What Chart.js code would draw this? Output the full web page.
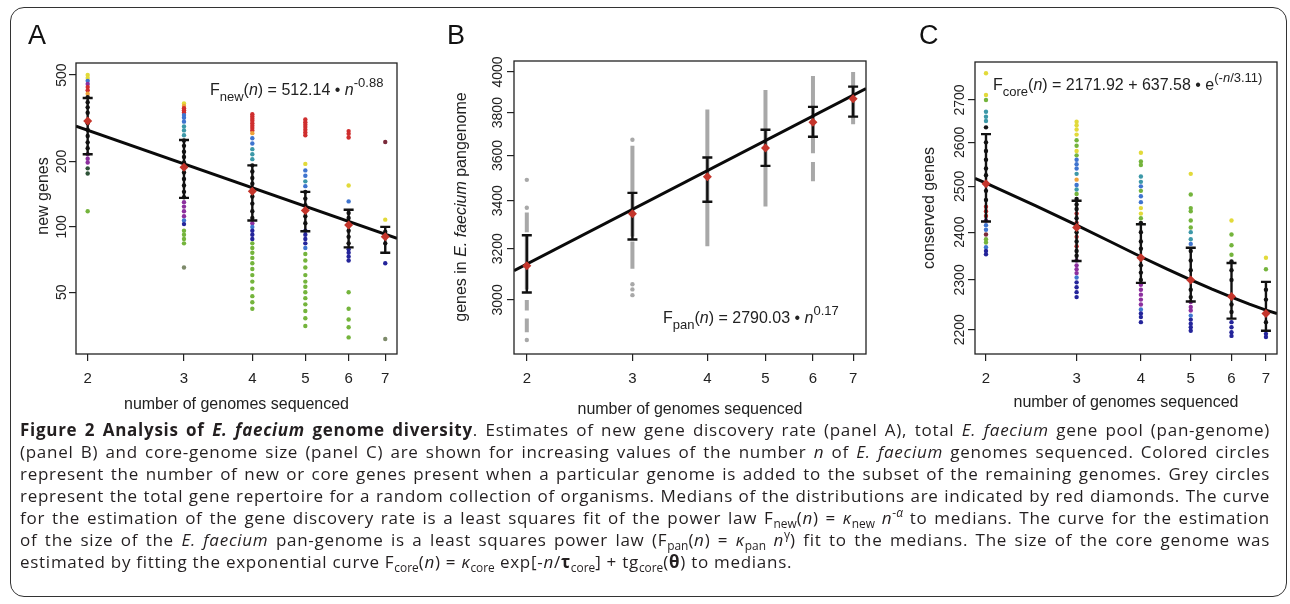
<!DOCTYPE html>
<html>
<head>
<meta charset="utf-8">
<script src="https://cdn.jsdelivr.net/npm/chart.js@4.4.0/dist/chart.umd.min.js"></script>
<style>
  body { margin: 0; background: #fff; width: 1290px; height: 604px; overflow: hidden; font-family: "Liberation Sans", Arial, sans-serif; }
  #frame { position: absolute; left: 10px; top: 7px; width: 1277px; height: 590px; border: 1.5px solid #333; border-radius: 14px; box-sizing: border-box; }
  canvas { position: absolute; top: 0; }
  #cA { left: 0; } #cB { left: 440px; } #cC { left: 880px; }
  .letter { position: absolute; top: 22px; font-size: 27px; line-height: 27px; color: #111; }
  #caption { position: absolute; left: 20px; top: 419px; width: 1250px; font-family: "Open Sans", sans-serif; font-size: 17px; letter-spacing: 0.72px; line-height: 22px; color: #231f20; }
  #caption div { text-align: justify; text-align-last: justify; }
  #caption div.last { text-align-last: left; }
  #caption sub, #caption sup { font-size: 70%; line-height: 0; letter-spacing: 0; }
</style>
</head>
<body>
<div id="frame"></div>
<canvas id="cA" width="440" height="420"></canvas>
<canvas id="cB" width="440" height="420"></canvas>
<canvas id="cC" width="410" height="420"></canvas>
<div class="letter" style="left:28px">A</div>
<div class="letter" style="left:447px">B</div>
<div class="letter" style="left:919px">C</div>
<div id="caption">
  <div><b>Figure 2 Analysis of <i>E. faecium</i> genome diversity</b>. Estimates of new gene discovery rate (panel A), total <i>E. faecium</i> gene pool (pan-genome)</div>
  <div>(panel B) and core-genome size (panel C) are shown for increasing values of the number <i>n</i> of <i>E. faecium</i> genomes sequenced. Colored circles</div>
  <div>represent the number of new or core genes present when a particular genome is added to the subset of the remaining genomes. Grey circles</div>
  <div>represent the total gene repertoire for a random collection of organisms. Medians of the distributions are indicated by red diamonds. The curve</div>
  <div>for the estimation of the gene discovery rate is a least squares fit of the power law F<sub>new</sub>(<i>n</i>) = <i>κ</i><sub>new</sub> <i>n</i><sup>-<i>α</i></sup> to medians. The curve for the estimation</div>
  <div>of the size of the <i>E. faecium</i> pan-genome is a least squares power law (F<sub>pan</sub>(<i>n</i>) = <i>κ</i><sub>pan</sub> <i>n</i><sup>γ</sup>) fit to the medians. The size of the core genome was</div>
  <div class="last">estimated by fitting the exponential curve F<sub>core</sub>(<i>n</i>) = <i>κ</i><sub>core</sub> exp[-<i>n</i>/<b>τ</b><sub>core</sub>] + tg<sub>core</sub>(<b>θ</b>) to medians.</div>
</div>
<script>
// shared x axis (number of genomes, log scale)
const xMin = 1.904, xMax = 7.355;
const nVals = [2, 3, 4, 5, 6, 7];

// dot colours
const pal = {
  Y: '#e2da3a', R: '#cf2e2e', O: '#eea23a', B: '#3f74cf', T: '#3c98a8', G: '#74b43c',
  P: '#8c2f9e', N: '#24249a', K: '#151515', D: '#2e5238', S: '#7d8a6a', M: '#7a2a3a'
};

// Panel A: new genes
const yTicksA = [50, 100, 200, 500];
const yMinA = 26, yMaxA = 568;
const medA = [307, 188, 146, 119, 102, 90];
const hiA = [392, 251, 192, 145, 120, 100];
const loA = [216, 136, 107, 95.5, 80.5, 76];
const fitA_n = [1.904, 7.355];
const fitA_v = [291, 88.5];
const dotsA = [
  [2,500,'Y'],[2,485,'Y'],[2,470,'B'],[2,455,'P'],[2,440,'R'],[2,425,'R'],[2,410,'O'],[2,395,'K'],[2,375,'K'],[2,355,'K'],[2,335,'K'],[2,300,'K'],[2,280,'K'],[2,262,'K'],[2,245,'K'],[2,230,'K'],[2,216,'P'],[2,206,'P'],[2,198,'P'],[2,186,'D'],[2,176,'D'],[2,118,'G'],
  [3,370,'Y'],[3,360,'O'],[3,352,'R'],[3,344,'R'],[3,336,'R'],[3,327,'B'],[3,318,'B'],[3,305,'B'],[3,290,'T'],[3,278,'T'],[3,264,'T'],[3,250,'K'],[3,236,'K'],[3,222,'K'],[3,210,'K'],[3,198,'K'],[3,178,'K'],[3,166,'K'],[3,155,'K'],[3,145,'K'],[3,137,'K'],[3,130,'P'],[3,124,'P'],[3,118,'P'],[3,112,'P'],[3,107,'B'],[3,103,'N'],[3,96,'G'],[3,92,'G'],[3,88,'G'],[3,84,'G'],[3,65,'S'],
  [4,330,'R'],[4,322,'R'],[4,315,'R'],[4,308,'R'],[4,300,'R'],[4,292,'R'],[4,285,'R'],[4,278,'R'],[4,270,'O'],[4,256,'B'],[4,242,'B'],[4,228,'T'],[4,216,'T'],[4,205,'T'],[4,192,'K'],[4,180,'K'],[4,168,'K'],[4,158,'K'],[4,138,'K'],[4,128,'K'],[4,118,'K'],[4,110,'K'],[4,104,'P'],[4,100,'B'],[4,96,'N'],[4,92,'N'],[4,88,'N'],[4,84,'G'],[4,80,'G'],[4,76,'G'],[4,72,'G'],[4,68,'G'],[4,64,'G'],[4,60,'G'],[4,56,'G'],[4,52,'G'],[4,48,'G'],[4,45,'G'],[4,42,'G'],
  [5,312,'R'],[5,303,'R'],[5,295,'R'],[5,288,'R'],[5,280,'R'],[5,272,'R'],[5,264,'R'],[5,195,'Y'],[5,182,'B'],[5,172,'B'],[5,162,'T'],[5,154,'B'],[5,145,'K'],[5,135,'K'],[5,126,'K'],[5,112,'K'],[5,104,'K'],[5,96,'N'],[5,92,'N'],[5,88,'N'],[5,84,'N'],[5,80,'B'],[5,75,'G'],[5,70,'G'],[5,65,'G'],[5,60,'G'],[5,56,'G'],[5,53,'G'],[5,50,'G'],[5,47,'G'],[5,44,'G'],[5,41,'G'],[5,38,'G'],[5,35,'G'],
  [6,276,'R'],[6,268,'R'],[6,258,'R'],[6,155,'Y'],[6,131,'B'],[6,116,'K'],[6,110,'K'],[6,96,'K'],[6,90,'K'],[6,84,'K'],[6,79,'N'],[6,76,'N'],[6,73,'N'],[6,70,'N'],[6,50,'G'],[6,42,'G'],[6,37.5,'G'],[6,34.5,'G'],[6,31,'G'],
  [7,246,'M'],[7,108,'Y'],[7,95,'K'],[7,84,'K'],[7,68,'N'],[7,30.5,'S']
];

// Panel B: pangenome size
const yTicksB = [3000, 3200, 3400, 3600, 3800, 4000];
const yMinB = 2802, yMaxB = 4056;
const medB = [3132, 3345, 3505, 3634, 3754, 3867];
const hiB = [3255, 3434, 3591, 3719, 3828, 3927];
const loB = [3028, 3238, 3396, 3553, 3686, 3781];
const fitB_n = [1.904, 7.355];
const fitB_v = [3113, 3917];
// grey runs [n, from, to] and single grey dots [n, value]
const greyRunsB = [
  [2,3040,3260],[2,3268,3350],[2,2960,3000],[2,2880,2930],
  [3,3250,3630],[3,3120,3230],[3,3600,3645],
  [4,3210,3815],
  [5,3375,3910],
  [6,3610,3980],[6,3485,3570],
  [7,3745,4000]
];
const greyDotsB = [[2,3491],[2,3370],[2,2852],[3,3672],[3,3060],[3,3040],[3,3018]];

// Panel C: core genome
const yTicksC = [2200, 2300, 2400, 2500, 2600, 2700];
const yMinC = 2153, yMaxC = 2793;
const medC = [2506, 2410, 2346, 2300, 2266, 2232];
const hiC = [2619, 2468, 2417, 2367, 2335, 2296];
const loC = [2423, 2339, 2294, 2256, 2222, 2198];
const fitC_n = [1.904, 2, 2.5, 3, 3.5, 4, 4.5, 5, 5.5, 6, 6.5, 7, 7.355];
const fitC_v = [2518, 2507, 2457, 2415, 2379, 2348, 2322, 2300, 2281, 2265, 2251, 2239, 2232];
const dotsC = [
  [2,2765,'Y'],[2,2712,'Y'],[2,2700,'G'],[2,2672,'T'],[2,2660,'T'],[2,2650,'T'],[2,2635,'K'],[2,2600,'K'],[2,2580,'K'],[2,2560,'K'],[2,2540,'K'],[2,2525,'K'],[2,2490,'K'],[2,2470,'K'],[2,2455,'R'],[2,2445,'R'],[2,2435,'R'],[2,2425,'P'],[2,2415,'B'],[2,2405,'B'],[2,2395,'M'],[2,2385,'G'],[2,2378,'G'],[2,2368,'B'],[2,2360,'N'],[2,2353,'N'],
  [3,2648,'Y'],[3,2640,'Y'],[3,2630,'Y'],[3,2618,'Y'],[3,2605,'G'],[3,2592,'G'],[3,2580,'Y'],[3,2570,'G'],[3,2560,'B'],[3,2550,'B'],[3,2540,'B'],[3,2528,'T'],[3,2515,'O'],[3,2503,'B'],[3,2493,'T'],[3,2483,'G'],[3,2472,'K'],[3,2460,'K'],[3,2450,'K'],[3,2440,'R'],[3,2430,'K'],[3,2420,'R'],[3,2400,'K'],[3,2390,'R'],[3,2380,'K'],[3,2370,'R'],[3,2360,'K'],[3,2350,'K'],[3,2340,'P'],[3,2330,'P'],[3,2322,'P'],[3,2314,'P'],[3,2305,'B'],[3,2295,'N'],[3,2285,'N'],[3,2275,'N'],[3,2265,'N'],
  [4,2576,'Y'],[4,2556,'G'],[4,2548,'G'],[4,2522,'T'],[4,2510,'T'],[4,2500,'B'],[4,2490,'G'],[4,2478,'B'],[4,2465,'B'],[4,2452,'Y'],[4,2440,'Y'],[4,2430,'G'],[4,2420,'K'],[4,2400,'K'],[4,2380,'K'],[4,2365,'K'],[4,2330,'K'],[4,2315,'K'],[4,2300,'K'],[4,2290,'P'],[4,2280,'P'],[4,2270,'P'],[4,2260,'P'],[4,2250,'P'],[4,2240,'B'],[4,2232,'N'],[4,2225,'N'],[4,2215,'N'],
  [5,2528,'Y'],[5,2482,'G'],[5,2452,'G'],[5,2445,'G'],[5,2425,'G'],[5,2410,'G'],[5,2400,'T'],[5,2385,'T'],[5,2375,'B'],[5,2360,'K'],[5,2340,'K'],[5,2320,'K'],[5,2280,'K'],[5,2265,'K'],[5,2255,'P'],[5,2245,'P'],[5,2238,'P'],[5,2228,'B'],[5,2220,'N'],[5,2212,'N'],[5,2205,'N'],[5,2198,'N'],
  [6,2425,'Y'],[6,2395,'G'],[6,2372,'G'],[6,2352,'G'],[6,2338,'K'],[6,2320,'K'],[6,2300,'K'],[6,2250,'K'],[6,2235,'K'],[6,2215,'N'],[6,2205,'N'],[6,2195,'N'],[6,2188,'N'],
  [7,2346,'Y'],[7,2322,'G'],[7,2280,'K'],[7,2260,'K'],[7,2215,'K'],[7,2192,'N'],[7,2186,'N']
];

const FONT = '"Liberation Sans", Arial, sans-serif';
const f = (s, it) => (it ? 'italic ' : '') + s + 'px ' + FONT;
Chart.defaults.font.family = FONT;

function pts(ns, vs) { return ns.map((n, i) => ({ x: n, y: vs[i] })); }
function runWidth(ctx, runs) {
  let w = 0;
  runs.forEach(r => { ctx.font = r.f; w += ctx.measureText(r.t).width; });
  return w;
}
function drawRuns(ctx, runs, x, y, center) {
  let cx = center ? x - runWidth(ctx, runs) / 2 : x;
  runs.forEach(r => { ctx.font = r.f; ctx.fillText(r.t, cx, y + (r.dy || 0)); cx += ctx.measureText(r.t).width; });
}

// R-style frame: box, rotated y labels, titles, formula, error bars
function makeFrame(P) {
  return {
    id: 'rFrame',
    beforeDatasetDraw(chart, args) {
      if (args.index !== 1) return;
      const { ctx, scales: { x, y } } = chart;
      ctx.save();
      ctx.strokeStyle = '#111';
      ctx.lineWidth = 2.4;
      nVals.forEach((n, i) => {
        const px = x.getPixelForValue(n);
        const y1 = y.getPixelForValue(P.hi[i]), y2 = y.getPixelForValue(P.lo[i]);
        ctx.beginPath();
        ctx.moveTo(px, y1); ctx.lineTo(px, y2);
        ctx.moveTo(px - 5, y1); ctx.lineTo(px + 5, y1);
        ctx.moveTo(px - 5, y2); ctx.lineTo(px + 5, y2);
        ctx.stroke();
      });
      ctx.restore();
    },
    afterDraw(chart) {
      const { ctx, chartArea: a, scales: { y } } = chart;
      ctx.save();
      ctx.strokeStyle = '#222';
      ctx.lineWidth = 1.3;
      ctx.strokeRect(a.left, a.top, a.right - a.left, a.bottom - a.top);
      ctx.fillStyle = '#222';
      ctx.textAlign = 'left';
      ctx.textBaseline = 'middle';
      P.yTicks.forEach(v => {
        ctx.save();
        ctx.translate(P.yLabX, y.getPixelForValue(v));
        ctx.rotate(-Math.PI / 2);
        drawRuns(ctx, [{ t: String(v), f: f(14) }], 0, 0, true);
        ctx.restore();
      });
      ctx.save();
      ctx.translate(P.yTitleX, P.yTitleY);
      ctx.rotate(-Math.PI / 2);
      drawRuns(ctx, P.yTitle, 0, 0, true);
      ctx.restore();
      drawRuns(ctx, [{ t: 'number of genomes sequenced', f: f(16) }], (a.left + a.right) / 2, P.xTitleY, true);
      ctx.textBaseline = 'alphabetic';
      drawRuns(ctx, P.formula, P.fx, P.fy, false);
      ctx.restore();
    }
  };
}

function makePanel(id, P) {
  const grid = { drawOnChartArea: false, drawTicks: true, tickLength: 7, color: '#222', lineWidth: 1.2 };
  const datasets = [
    { data: pts(nVals, P.med), pointStyle: 'rectRot', pointRadius: 4.5, backgroundColor: '#c4352b', borderWidth: 0, order: 0 },
    { data: pts(P.fitN, P.fitV), showLine: true, borderColor: '#0a0a0a', borderWidth: 3, pointRadius: 0, order: 1 }
  ].concat(P.extra);
  new Chart(document.getElementById(id), {
    type: 'scatter',
    data: { datasets: datasets },
    options: {
      responsive: false,
      animation: false,
      events: [],
      layout: { padding: { top: P.top, right: P.right, left: 0, bottom: 0 } },
      plugins: { legend: { display: false }, tooltip: { enabled: false } },
      scales: {
        x: {
          type: 'logarithmic', min: xMin, max: xMax,
          afterBuildTicks: s => { s.ticks = nVals.map(v => ({ value: v })); },
          afterFit: s => { s.height = P.xH; },
          grid: grid, border: { display: false },
          ticks: { color: '#222', font: { size: 15 }, padding: 9, maxRotation: 0, autoSkip: false, callback: v => String(v) }
        },
        y: {
          type: 'logarithmic', min: P.yMin, max: P.yMax,
          afterBuildTicks: s => { s.ticks = P.yTicks.map(v => ({ value: v })); },
          afterFit: s => { s.width = P.yW; },
          grid: grid, border: { display: false },
          ticks: { display: false }
        }
      }
    },
    plugins: [makeFrame(P)]
  });
}

function colouredDots(list) {
  return {
    data: list.map(d => ({ x: d[0], y: d[1] })),
    backgroundColor: list.map(d => pal[d[2]]),
    pointRadius: 2.2, borderWidth: 0, order: 3
  };
}

makePanel('cA', {
  yMin: yMinA, yMax: yMaxA, yTicks: yTicksA, med: medA, hi: hiA, lo: loA, fitN: fitA_n, fitV: fitA_v,
  top: 63, right: 43, yW: 76, xH: 66,
  yLabX: 62, yTitleX: 44, yTitleY: 196, xTitleY: 405,
  yTitle: [{ t: 'new genes', f: f(16) }],
  fx: 210, fy: 95,
  formula: [{ t: 'F', f: f(16) }, { t: 'new', f: f(13), dy: 6 }, { t: '(', f: f(16) }, { t: 'n', f: f(16, true) },
            { t: ') = 512.14 \u2022 ', f: f(16) }, { t: 'n', f: f(16, true) }, { t: '-0.88', f: f(13), dy: -8 }],
  extra: [colouredDots(dotsA)]
});

const greySegs = [];
greyRunsB.forEach(r => { greySegs.push({ x: r[0], y: r[1] }, { x: r[0], y: r[2] }, { x: r[0], y: null }); });
makePanel('cB', {
  yMin: yMinB, yMax: yMaxB, yTicks: yTicksB, med: medB, hi: hiB, lo: loB, fitN: fitB_n, fitV: fitB_v,
  top: 61, right: 14, yW: 74, xH: 66,
  yLabX: 58, yTitleX: 22, yTitleY: 207, xTitleY: 410,
  yTitle: [{ t: 'genes in ', f: f(16) }, { t: 'E. faecium', f: f(16, true) }, { t: ' pangenome', f: f(16) }],
  fx: 223, fy: 323,
  formula: [{ t: 'F', f: f(16) }, { t: 'pan', f: f(13), dy: 6 }, { t: '(', f: f(16) }, { t: 'n', f: f(16, true) },
            { t: ') = 2790.03 \u2022 ', f: f(16) }, { t: 'n', f: f(16, true) }, { t: '0.17', f: f(13), dy: -8 }],
  extra: [
    { data: greyDotsB.map(d => ({ x: d[0], y: d[1] })), backgroundColor: '#a8a8a8', pointRadius: 2.2, borderWidth: 0, order: 3 },
    { data: greySegs, showLine: true, spanGaps: false, borderColor: '#a8a8a8', borderWidth: 4, pointRadius: 0, order: 4 }
  ]
});

makePanel('cC', {
  yMin: yMinC, yMax: yMaxC, yTicks: yTicksC, med: medC, hi: hiC, lo: loC, fitN: fitC_n, fitV: fitC_v,
  top: 62, right: 13, yW: 95, xH: 66,
  yLabX: 80, yTitleX: 50, yTitleY: 208, xTitleY: 403,
  yTitle: [{ t: 'conserved genes', f: f(16) }],
  fx: 113, fy: 90,
  formula: [{ t: 'F', f: f(16) }, { t: 'core', f: f(13), dy: 6 }, { t: '(', f: f(16) }, { t: 'n', f: f(16, true) },
            { t: ') = 2171.92 + 637.58 \u2022 e', f: f(16) }, { t: '(-', f: f(13), dy: -8 }, { t: 'n', f: f(13, true), dy: -8 },
            { t: '/3.11)', f: f(13), dy: -8 }],
  extra: [colouredDots(dotsC)]
});
</script>
</body>
</html>
